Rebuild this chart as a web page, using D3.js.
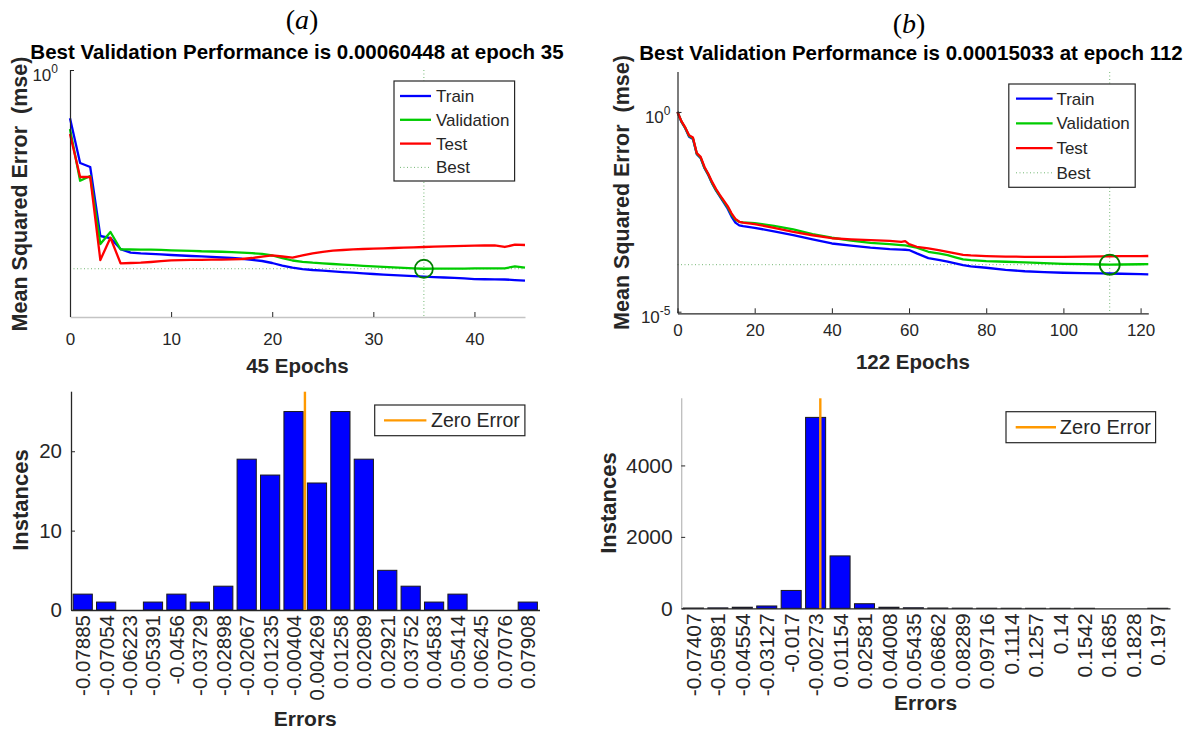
<!DOCTYPE html>
<html>
<head>
<meta charset="utf-8">
<script src="https://cdn.jsdelivr.net/npm/d3@7"></script>
<style>
  body { margin: 0; background: #fff; }
  text { font-family: "Liberation Sans", Arial, sans-serif; fill: #262626; }
</style>
</head>
<body>
<div id="chart"></div>
<script>

// ---------- data : (a) performance ----------
var epochsA = d3.range(0, 46);
var trainA = [0.165, 0.0312, 0.0269, 0.00205, 0.00190, 0.00126, 0.00110, 0.00107, 0.00105, 0.00103,
  0.00101, 0.000991, 0.000973, 0.000962, 0.000944, 0.000920, 0.000902, 0.000877, 0.000844, 0.000807,
  0.000749, 0.000682, 0.000629, 0.000598, 0.000577, 0.000562, 0.000550, 0.000535, 0.000524, 0.000510,
  0.000497, 0.000486, 0.000477, 0.000467, 0.000458, 0.000450, 0.000443, 0.000436, 0.000430, 0.000422,
  0.000412, 0.000409, 0.000408, 0.000405, 0.000397, 0.000387];
var validA = [0.111, 0.0161, 0.0192, 0.00152, 0.00238, 0.00125, 0.00124, 0.00123, 0.00123, 0.00122,
  0.00120, 0.00119, 0.00118, 0.00116, 0.00115, 0.00114, 0.00112, 0.00110, 0.00108, 0.00105,
  0.000991, 0.000902, 0.000822, 0.000783, 0.000757, 0.000741, 0.000722, 0.000705, 0.000690, 0.000675,
  0.000660, 0.000647, 0.000636, 0.000625, 0.000615, 0.00060448, 0.000606, 0.000607, 0.000608, 0.000609,
  0.000611, 0.000612, 0.000613, 0.000615, 0.000660, 0.000630];
var testA = [0.0920, 0.0185, 0.0185, 0.000838, 0.00192, 0.000741, 0.000749, 0.000757, 0.000778, 0.000801,
  0.000828, 0.000834, 0.000841, 0.000844, 0.000847, 0.000847, 0.000857, 0.000869, 0.000902, 0.000948,
  0.000998, 0.000955, 0.000913, 0.000991, 0.001076, 0.001138, 0.001186, 0.001216, 0.001244, 0.001263,
  0.001277, 0.001297, 0.001310, 0.001330, 0.001345, 0.001361, 0.001375, 0.001390, 0.001406, 0.001417,
  0.001428, 0.001438, 0.001449, 0.001361, 0.001482, 0.001466];
var bestEpochA = 35, bestValueA = 0.00060448;

// ---------- data : (b) performance ----------
var epochsB = [0, 1, 2, 3, 4, 5, 6, 7, 8, 9, 10, 11, 12, 13, 14, 15, 16, 17, 20, 25, 30, 35, 40, 45,
  50, 55, 58, 59, 60, 62, 65, 68, 70, 72, 74, 76, 80, 85, 90, 95, 100, 105, 110, 112, 115, 120, 122];
var trainB = [1.0, 0.57, 0.39, 0.24, 0.21, 0.088, 0.070, 0.039, 0.026, 0.016, 0.0107, 0.0076, 0.0054, 0.0038,
  0.0024, 0.0017, 0.00145, 0.00138, 0.00126, 0.00103, 0.00083, 0.00065, 0.00051, 0.00045, 0.00040, 0.00037,
  0.00036, 0.000355, 0.000349, 0.000288, 0.000220, 0.000195, 0.000178, 0.000162, 0.000146, 0.000136,
  0.000126, 0.000112, 0.000103, 0.000098, 0.0000944, 0.0000925, 0.0000912, 0.0000905, 0.000089, 0.0000870, 0.0000861];
var validB = [1.0, 0.58, 0.40, 0.25, 0.22, 0.090, 0.072, 0.040, 0.027, 0.0165, 0.0110, 0.0079, 0.0057, 0.0041,
  0.0027, 0.0020, 0.00178, 0.00172, 0.00165, 0.00140, 0.00115, 0.00088, 0.00071, 0.00060, 0.00053, 0.00049,
  0.000465, 0.000455, 0.000439, 0.000400, 0.000316, 0.000285, 0.000261, 0.000230, 0.000204, 0.000195,
  0.000185, 0.000178, 0.000172, 0.000165, 0.000158, 0.000155, 0.000152, 0.00015033, 0.000152, 0.000154, 0.000155];
var testB = [1.0, 0.59, 0.41, 0.26, 0.23, 0.093, 0.075, 0.042, 0.028, 0.0175, 0.0117, 0.0083, 0.0060, 0.0044,
  0.0029, 0.0021, 0.00178, 0.00170, 0.00156, 0.00126, 0.00100, 0.00082, 0.00069, 0.00065, 0.00062, 0.00059,
  0.00056, 0.000585, 0.000492, 0.000422, 0.000385, 0.000345, 0.000316, 0.000290, 0.000266, 0.000257,
  0.000247, 0.000240, 0.000237, 0.000237, 0.000237, 0.000239, 0.000243, 0.000244, 0.000245, 0.000247, 0.000248];
var bestEpochB = 112, bestValueB = 0.00015033;

// ---------- data : error histograms ----------
var binsA = ["-0.07885", "-0.07054", "-0.06223", "-0.05391", "-0.0456", "-0.03729", "-0.02898", "-0.02067",
  "-0.01235", "-0.00404", "0.004269", "0.01258", "0.02089", "0.02921", "0.03752", "0.04583", "0.05414",
  "0.06245", "0.07076", "0.07908"];
var countsA = [2, 1, 0, 1, 2, 1, 3, 19, 17, 25, 16, 25, 19, 5, 3, 1, 2, 0, 0, 1];

var binsB = ["-0.07407", "-0.05981", "-0.04554", "-0.03127", "-0.017", "-0.00273", "0.01154", "0.02581",
  "0.04008", "0.05435", "0.06862", "0.08289", "0.09716", "0.1114", "0.1257", "0.14", "0.1542", "0.1685",
  "0.1828", "0.197"];
var countsB = [8, 12, 30, 65, 500, 5345, 1467, 128, 30, 15, 8, 5, 3, 2, 1, 1, 1, 0, 0, 1];

var seriesNames = ["Train", "Validation", "Test", "Best"];
var seriesColors = ["#0000ff", "#00cc00", "#ff0000", "#3a9a3a"];

// ---------- svg ----------
var svg = d3.select("#chart")
  .append("svg")
  .attr("width", 1198)
  .attr("height", 731)
  .style("background", "#fff");

// panel letter like "(a)"
function drawLetter(letter, cx, by) {
  var t = svg.append("text")
    .attr("x", cx).attr("y", by)
    .attr("text-anchor", "middle")
    .style("font-family", "'Liberation Serif', 'DejaVu Serif', serif")
    .style("font-size", "28px")
    .style("fill", "#000");
  t.append("tspan").text("(");
  t.append("tspan").style("font-style", "italic").text(letter);
  t.append("tspan").text(")");
}

// ---------- performance plot ----------
function drawPerf(c, epochs, train, valid, test, bestEpoch, bestValue) {
  var x = d3.scaleLinear().domain([0, c.xMax]).range([c.left, c.right]);
  var y = d3.scaleLog().domain(c.yDomain).range([c.yBottom, c.top]);
  var g = svg.append("g");

  // best markers (dotted)
  g.append("line")
    .attr("x1", x(bestEpoch)).attr("x2", x(bestEpoch))
    .attr("y1", c.top).attr("y2", c.bottom)
    .style("stroke", seriesColors[3]).style("stroke-width", 1)
    .style("stroke-dasharray", "1,2.5").style("opacity", 0.7);
  g.append("line")
    .attr("x1", c.left).attr("x2", c.right)
    .attr("y1", y(bestValue)).attr("y2", y(bestValue))
    .style("stroke", seriesColors[3]).style("stroke-width", 1)
    .style("stroke-dasharray", "1,2.5").style("opacity", 0.7);

  // curves
  [train, valid, test].forEach(function(vals, k) {
    var line = d3.line()
      .x(function(d, i) { return x(epochs[i]); })
      .y(function(d) { return y(d); });
    g.append("path")
      .datum(vals)
      .attr("d", line)
      .style("fill", "none")
      .style("stroke", seriesColors[k])
      .style("stroke-width", 2.3)
      .style("stroke-linejoin", "round");
  });

  // best circle
  g.append("circle")
    .attr("cx", x(bestEpoch)).attr("cy", y(bestValue))
    .attr("r", c.circleR)
    .style("fill", "none").style("stroke", "#008000").style("stroke-width", 1.8);

  // x axis
  var xa = g.append("g")
    .attr("transform", "translate(0," + c.bottom + ")")
    .call(d3.axisBottom(x).tickValues(c.xTicks).tickSizeInner(-5).tickSizeOuter(0).tickPadding(c.xPad));
  xa.select(".domain").style("stroke", c.xAxisColor).style("stroke-width", 1.3);
  xa.selectAll(".tick line").style("stroke", "#262626");
  xa.selectAll("text").style("font-size", "17px").style("font-family", "'Liberation Sans', Arial, sans-serif").style("fill", "#262626");

  // y axis
  var ya = g.append("g")
    .attr("transform", "translate(" + c.left + ",0)")
    .call(d3.axisLeft(y).tickValues(c.yTicks.map(function(d) { return d.v; }))
      .tickFormat("").tickSizeInner(-4).tickSizeOuter(0));
  ya.select(".domain").attr("d", "M0.5," + c.top + "V" + c.bottom).style("stroke", "#262626").style("stroke-width", 1.2);
  ya.selectAll(".tick line").style("stroke", "#262626");

  c.yTicks.forEach(function(t) {
    var lab = g.append("text")
      .attr("x", c.left - c.yLabOff).attr("y", y(t.v) + 11)
      .attr("text-anchor", "end")
      .style("font-size", "17px");
    lab.append("tspan").text("10");
    lab.append("tspan").attr("dy", -8).style("font-size", "12px").text(t.exp);
  });

  // texts
  svg.append("text")
    .attr("x", c.titleX).attr("y", c.titleY)
    .attr("text-anchor", "middle")
    .style("font-weight", "bold").style("font-size", "20.5px").style("fill", "#000")
    .text(c.title);
  svg.append("text")
    .attr("x", (c.left + c.right) / 2).attr("y", c.xlabY)
    .attr("text-anchor", "middle")
    .style("font-weight", "bold").style("font-size", "20.5px")
    .text(c.xlabel);
  svg.append("text")
    .attr("transform", "translate(" + c.ylabX + "," + c.ylabY + ") rotate(-90)")
    .attr("text-anchor", "middle").attr("dy", "0.36em")
    .style("font-weight", "bold").style("font-size", "21.5px")
    .style("white-space", "pre")
    .text("Mean Squared Error  (mse)");

  // legend
  var L = c.legend;
  var lg = svg.append("g");
  lg.append("rect")
    .attr("x", L.x).attr("y", L.y).attr("width", L.w).attr("height", L.h)
    .style("fill", "#fff").style("stroke", "#262626").style("stroke-width", 1.2);
  seriesNames.forEach(function(name, i) {
    var ry = L.row0 + i * L.dy;
    lg.append("line")
      .attr("x1", L.lx0).attr("x2", L.lx1).attr("y1", ry).attr("y2", ry)
      .style("stroke", seriesColors[i])
      .style("stroke-width", i < 3 ? 2.3 : 1)
      .style("stroke-dasharray", i < 3 ? null : "1,2.5")
      .style("opacity", i < 3 ? 1 : 0.7);
    lg.append("text")
      .attr("x", L.tx).attr("y", ry + 6)
      .style("font-size", "17px")
      .text(name);
  });
}

// ---------- error histogram ----------
function drawHist(c, bins, counts) {
  var x = d3.scaleBand().domain(bins).range([c.left, c.right]).paddingInner(0.18).paddingOuter(0.09);
  var ymax = d3.max(counts) * 1.1;
  var y = d3.scaleLinear().domain([0, ymax]).range([c.base, c.top]);
  var xv = d3.scaleLinear()
    .domain([+bins[0], +bins[bins.length - 1]])
    .range([x(bins[0]) + x.bandwidth() / 2, x(bins[bins.length - 1]) + x.bandwidth() / 2]);
  var g = svg.append("g");

  // bars
  g.selectAll("rect.bar")
    .data(counts)
    .enter()
    .append("rect")
      .attr("class", "bar")
      .attr("x", function(d, i) { return x(bins[i]); })
      .attr("y", function(d) { return y(d); })
      .attr("width", x.bandwidth())
      .attr("height", function(d) { return c.base - y(d); })
      .style("fill", "#0000ff")
      .style("stroke", function(d) { return d > 0 ? "#1a1a1a" : "#b0b0b0"; })
      .style("stroke-width", 1);

  // axes
  var xa = g.append("g")
    .attr("transform", "translate(0," + c.base + ")")
    .call(d3.axisBottom(x).tickSize(0).tickSizeOuter(0));
  xa.select(".domain").style("stroke", c.xAxisColor).style("stroke-width", 1.3);
  xa.selectAll("text")
    .attr("transform", "rotate(-90)")
    .attr("x", -5).attr("y", 0).attr("dy", "0.36em")
    .attr("text-anchor", "end")
    .style("font-size", c.font + "px")
    .style("font-family", "'Liberation Sans', Arial, sans-serif")
    .style("fill", "#262626");

  var ya = g.append("g")
    .attr("transform", "translate(" + c.left + ",0)")
    .call(d3.axisLeft(y).tickValues(c.yTicks).tickFormat(d3.format("d"))
      .tickSizeInner(-4).tickSizeOuter(0).tickPadding(c.yPad));
  ya.select(".domain").attr("d", "M0.5," + c.top + "V" + c.base).style("stroke", c.yAxisColor).style("stroke-width", 1.3);
  ya.selectAll(".tick line").style("stroke", "#262626");
  ya.selectAll("text")
    .style("font-size", c.font + "px")
    .style("font-family", "'Liberation Sans', Arial, sans-serif")
    .style("fill", "#262626");

  // zero error line
  g.append("line")
    .attr("x1", xv(0)).attr("x2", xv(0))
    .attr("y1", c.top).attr("y2", c.base)
    .style("stroke", "#ff9900").style("stroke-width", 2.4);

  // labels
  svg.append("text")
    .attr("x", (c.left + c.right) / 2).attr("y", c.xlabY)
    .attr("text-anchor", "middle")
    .style("font-weight", "bold").style("font-size", "21px")
    .text("Errors");
  svg.append("text")
    .attr("transform", "translate(" + c.ylabX + "," + c.ylabY + ") rotate(-90)")
    .attr("text-anchor", "middle").attr("dy", "0.36em")
    .style("font-weight", "bold").style("font-size", "22px")
    .text("Instances");

  // legend
  var L = c.legend;
  svg.append("rect")
    .attr("x", L.x).attr("y", L.y).attr("width", L.w).attr("height", L.h)
    .style("fill", "#fff").style("stroke", "#262626").style("stroke-width", 1.2);
  svg.append("line")
    .attr("x1", L.lx0).attr("x2", L.lx1).attr("y1", L.y + L.h / 2).attr("y2", L.y + L.h / 2)
    .style("stroke", "#ff9900").style("stroke-width", 2.4);
  svg.append("text")
    .attr("x", L.tx).attr("y", L.y + L.h / 2 + 7)
    .style("font-size", L.font + "px")
    .text("Zero Error");
}

// ---------- panels ----------
drawLetter("a", 302, 29);
drawLetter("b", 909, 33);

drawPerf({
  left: 70, right: 525, top: 70, bottom: 317, yBottom: 317,
  xMax: 45, yDomain: [1e-4, 1], xTicks: [0, 10, 20, 30, 40], xPad: 16,
  xAxisColor: "#c4c4c4", yTicks: [{v: 1, exp: "0"}], yLabOff: 12, circleR: 9,
  title: "Best Validation Performance is 0.00060448 at epoch 35", titleX: 297, titleY: 59,
  xlabel: "45 Epochs", xlabY: 373, ylabX: 19, ylabY: 194,
  legend: {x: 394, y: 81, w: 120.6, h: 100, row0: 96, dy: 23.8, lx0: 400, lx1: 431, tx: 436}
}, epochsA, trainA, validA, testA, bestEpochA, bestValueA);

drawPerf({
  left: 677.5, right: 1148.3, top: 72, bottom: 313.3, yBottom: 311.7,
  xMax: 122, yDomain: [1e-5, 10], xTicks: [0, 20, 40, 60, 80, 100, 120], xPad: 10.5,
  xAxisColor: "#262626", yTicks: [{v: 1, exp: "0"}, {v: 1e-5, exp: "-5"}], yLabOff: 7, circleR: 10,
  title: "Best Validation Performance is 0.00015033 at epoch 112", titleX: 911, titleY: 59.5,
  xlabel: "122 Epochs", xlabY: 369, ylabX: 621, ylabY: 192.5,
  legend: {x: 1008.8, y: 84, w: 126.4, h: 103.3, row0: 98.7, dy: 24.7, lx0: 1016, lx1: 1052.6, tx: 1056.4}
}, epochsB, trainB, validB, testB, bestEpochB, bestValueB);

drawHist({
  left: 71, right: 539.5, top: 391.7, base: 610, yTicks: [0, 10, 20], yPad: 9, font: 20.5,
  xAxisColor: "#262626", yAxisColor: "#262626",
  xlabY: 725.5, ylabX: 20, ylabY: 500,
  legend: {x: 374.7, y: 405, w: 150.2, h: 30.7, lx0: 384, lx1: 426.4, tx: 431, font: 19.5}
}, binsA, countsA);

drawHist({
  left: 681.2, right: 1170, top: 398.3, base: 608.3, yTicks: [0, 2000, 4000], yPad: 8.5, font: 21,
  xAxisColor: "#262626", yAxisColor: "#bdbdbd",
  xlabY: 710, ylabX: 607.7, ylabY: 503,
  legend: {x: 1006, y: 411.7, w: 149.6, h: 31, lx0: 1015.7, lx1: 1056, tx: 1059.8, font: 20}
}, binsB, countsB);

</script>
</body>
</html>
